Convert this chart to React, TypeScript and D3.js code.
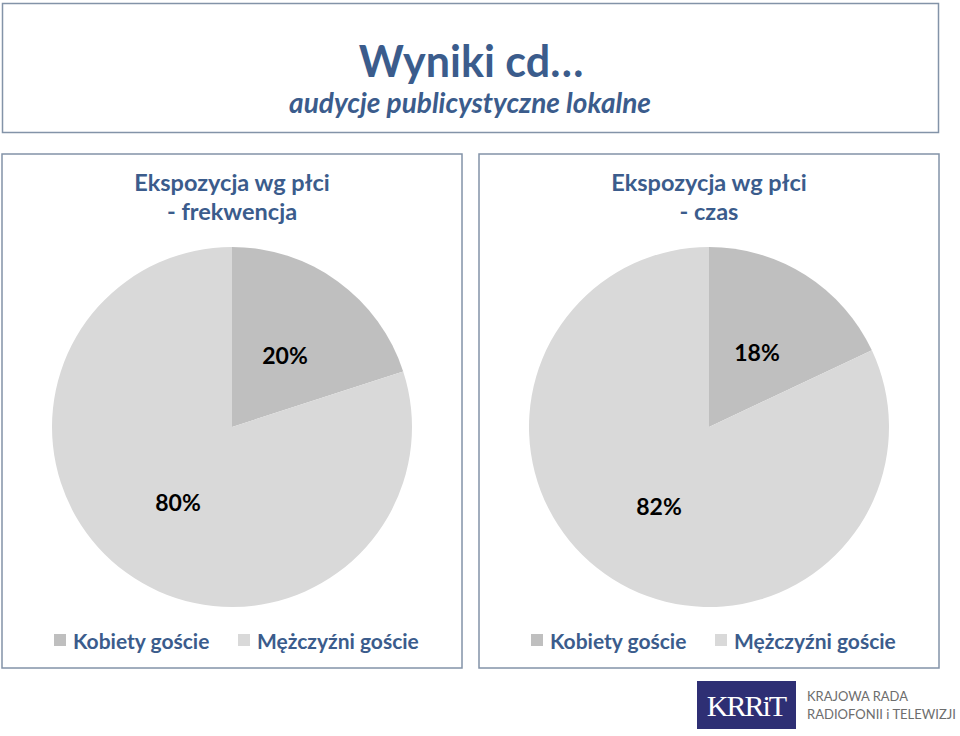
import React from "react";
import * as d3 from "d3";

const categories = ["Kobiety goście", "Mężczyźni goście"];
const colors = ["#bfbfbf", "#d9d9d9"];
const frekwencja = [20, 80];
const czas = [18, 82];
const panelTitles = [["Ekspozycja wg płci", "- frekwencja"], ["Ekspozycja wg płci", "- czas"]];
const mainTitle = "Wyniki cd…";
const subTitle = "audycje publicystyczne lokalne";

const FONT = "Lato, 'Open Sans', sans-serif";
const BLUE = "#3b5c8c";
const BORDER = "#8393a8";

type PanelProps = { x: number; values: number[]; titles: string[]; labelPos: [number, number][] };

function Panel({ x, values, titles, labelPos }: PanelProps) {
  const cx = x + 230;
  const cy = 427;
  const r = 180;
  const pie = d3.pie<number>().sort(null).value((d) => d)(values);
  const arc = d3.arc<d3.PieArcDatum<number>>().innerRadius(0).outerRadius(r);
  return (
    <g>
      <rect x={x} y={154} width={460} height={514} fill="#fff" stroke={BORDER} strokeWidth={1.5} />
      <text x={cx} y={191} textAnchor="middle" fontFamily={FONT} fontWeight={700} fontSize={23.5} fill={BLUE}>{titles[0]}</text>
      <text x={cx} y={220} textAnchor="middle" fontFamily={FONT} fontWeight={700} fontSize={23.5} fill={BLUE}>{titles[1]}</text>
      <g transform={`translate(${cx},${cy})`}>
        {pie.map((p, i) => (
          <path key={i} d={arc(p) || ""} fill={colors[i]} />
        ))}
        {pie.map((p, i) => (
          <text key={"l" + i} x={labelPos[i][0]} y={labelPos[i][1]} textAnchor="middle" fontFamily={FONT} fontWeight={700} fontSize={23} fill="#000">
            {`${values[i]}%`}
          </text>
        ))}
      </g>
      {categories.map((c, i) => {
        const lx = x + 52 + i * 184;
        return (
          <g key={c}>
            <rect x={lx} y={634} width={12} height={12} fill={colors[i]} />
            <text x={lx + 19} y={649} fontFamily={FONT} fontWeight={700} fontSize={21} fill={BLUE}>{c}</text>
          </g>
        );
      })}
    </g>
  );
}

export default function App() {
  return (
    <svg width={960} height={736} style={{ position: "absolute", left: 0, top: 0 }}>
      <rect width={960} height={736} fill="#fff" />
      <rect x={2.5} y={3.5} width={936} height={129} fill="#fff" stroke={BORDER} strokeWidth={1.5} />
      <text x={471} y={77} textAnchor="middle" fontFamily={FONT} fontWeight={700} fontSize={43} fill={BLUE}>{mainTitle}</text>
      <text x={470} y={113} textAnchor="middle" fontFamily={FONT} fontStyle="italic" fontWeight={700} fontSize={28} fill={BLUE}>{subTitle}</text>
      <Panel x={2} values={frekwencja} titles={panelTitles[0]} labelPos={[[53, -63], [-54, 84]]} />
      <Panel x={479} values={czas} titles={panelTitles[1]} labelPos={[[48, -66], [-50, 88]]} />
      <g>
        <rect x={697} y={681} width={99} height={48} fill="#2e2f74" />
        <text x={746} y={716} textAnchor="middle" fontFamily="'Liberation Serif', serif" fontSize={30} fill="#fff" letterSpacing={-2}>KRRiT</text>
        <text x={807} y={701} fontFamily={FONT} fontSize={13} fill="#6d6d6d" textLength={101} lengthAdjust="spacingAndGlyphs">KRAJOWA RADA</text>
        <text x={807} y={719} fontFamily={FONT} fontSize={13} fill="#6d6d6d" textLength={149} lengthAdjust="spacingAndGlyphs">RADIOFONII i TELEWIZJI</text>
      </g>
    </svg>
  );
}
